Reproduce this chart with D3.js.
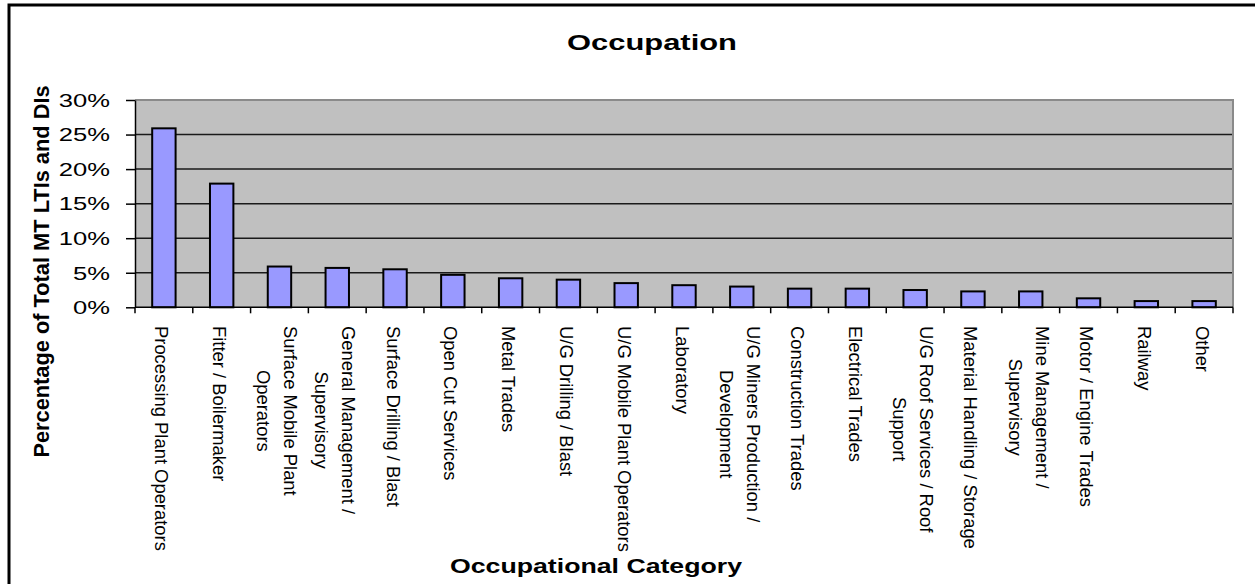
<!DOCTYPE html>
<html><head><meta charset="utf-8">
<script src="https://cdn.jsdelivr.net/npm/d3@7"></script>
<style>
body{margin:0;background:#fff;}
svg{display:block;font-family:"Liberation Sans",Arial,sans-serif;}
</style>
</head><body>
<svg id="chart" width="1255" height="584"></svg>
<script>
// ---- data ----
const categories = [
  "Processing Plant Operators",
  "Fitter / Boilermaker",
  "Surface Mobile Plant\nOperators",
  "General Management /\nSupervisory",
  "Surface Drilling / Blast",
  "Open Cut Services",
  "Metal Trades",
  "U/G Drilling / Blast",
  "U/G Mobile Plant Operators",
  "Laboratory",
  "U/G Miners Production /\nDevelopment",
  "Construction Trades",
  "Electrical Trades",
  "U/G Roof Services / Roof\nSupport",
  "Material Handling / Storage",
  "Mine Management /\nSupervisory",
  "Motor / Engine Trades",
  "Railway",
  "Other"
];
const values = [0.259, 0.179, 0.059, 0.057, 0.055, 0.047, 0.042, 0.040, 0.035, 0.032, 0.030, 0.027, 0.027, 0.025, 0.023, 0.023, 0.013, 0.009, 0.009];
const yTicks = [0, 0.05, 0.10, 0.15, 0.20, 0.25, 0.30];
const chartTitle = "Occupation";
const xTitle = "Occupational Category";
const yTitle = "Percentage of Total MT LTIs and DIs";

// ---- layout ----
const svg = d3.select("#chart");
const plot = {left: 135, right: 1233, top: 100, bottom: 307.3};
const hStretch = 1.42;

const x = d3.scaleBand().domain(categories).range([plot.left, plot.right]).padding(0);
const y = d3.scaleLinear().domain([0, 0.30]).range([plot.bottom, plot.top]);

// outer frame
svg.append("rect").attr("x", 9).attr("y", 5).attr("width", 1260).attr("height", 600)
  .attr("fill", "none").attr("stroke", "#000").attr("stroke-width", 3);

// plot background
svg.append("rect").attr("x", plot.left).attr("y", plot.top)
  .attr("width", plot.right - plot.left).attr("height", plot.bottom - plot.top)
  .attr("fill", "#c0c0c0");

// gridlines
svg.append("g").selectAll("line").data(yTicks.filter(t => t > 0 && t < 0.30)).join("line")
  .attr("x1", plot.left).attr("x2", plot.right)
  .attr("y1", d => y(d)).attr("y2", d => y(d))
  .attr("stroke", "#1a1a1a").attr("stroke-width", 1.5);

// plot border (top & right) gray
svg.append("path")
  .attr("d", `M${plot.left},${plot.top}H${plot.right}V${plot.bottom}`)
  .attr("fill", "none").attr("stroke", "#8a8a8a").attr("stroke-width", 2);

// bars
const barW = x.bandwidth() * 0.405;
svg.append("g").selectAll("rect").data(categories).join("rect")
  .attr("x", d => x(d) + (x.bandwidth() - barW) / 2)
  .attr("width", barW)
  .attr("y", (d, i) => y(values[i]))
  .attr("height", (d, i) => y(0) - y(values[i]))
  .attr("fill", "#9999ff").attr("stroke", "#000").attr("stroke-width", 2);

// y axis
const yAxis = svg.append("g").attr("transform", `translate(${plot.left},0)`)
  .call(d3.axisLeft(y).tickValues(yTicks).tickFormat(d3.format(".0%")).tickSize(9).tickSizeOuter(0));
yAxis.select(".domain").attr("stroke", "#000").attr("stroke-width", 1.5);
yAxis.selectAll(".tick line").attr("stroke", "#000").attr("stroke-width", 1.5);
yAxis.selectAll(".tick text")
  .attr("font-size", 18).attr("fill", "#000")
  .attr("font-family", '"Liberation Sans",Arial,sans-serif')
  .attr("x", -(plot.left - 110)).attr("dy", "0.35em")
  .each(function() {
    const w = this.getComputedTextLength();
    d3.select(this).attr("textLength", w * hStretch).attr("lengthAdjust", "spacingAndGlyphs");
  });

// x axis line and ticks at band boundaries
const xAx = svg.append("g");
xAx.append("line").attr("x1", plot.left).attr("x2", plot.right)
  .attr("y1", y(0)).attr("y2", y(0)).attr("stroke", "#000").attr("stroke-width", 1.5);
const bounds = categories.map(c => x(c)).concat([x.range()[1]]);
xAx.selectAll("line.tk").data(bounds).join("line").attr("class", "tk")
  .attr("x1", d => d).attr("x2", d => d)
  .attr("y1", y(0)).attr("y2", y(0) + 6)
  .attr("stroke", "#000").attr("stroke-width", 1.5);

// x category labels (rotated 90deg, multi-line centered)
const lineH = 27;
const labG = svg.append("g");
categories.forEach(c => {
  const lines = c.split("\n");
  const n = lines.length;
  const cx = x(c) + x.bandwidth() / 2;
  const g = labG.append("g").attr("transform", `translate(${cx},326) rotate(90)`);
  const texts = lines.map((ln, i) => g.append("text")
    .attr("font-size", 18.4).attr("fill", "#000")
    .attr("y", 8.5 - (n - 1) / 2 * lineH + i * lineH)
    .attr("text-anchor", "middle")
    .text(ln));
  const maxW = d3.max(texts, t => t.node().getComputedTextLength());
  texts.forEach(t => t.attr("x", maxW / 2));
});

// title
svg.append("text").attr("x", 652).attr("y", 50)
  .attr("text-anchor", "middle").attr("font-size", 22).attr("font-weight", "bold")
  .attr("textLength", 170).attr("lengthAdjust", "spacingAndGlyphs")
  .text(chartTitle);

// x axis title
svg.append("text").attr("x", 596).attr("y", 573)
  .attr("text-anchor", "middle").attr("font-size", 20).attr("font-weight", "bold")
  .attr("textLength", 292).attr("lengthAdjust", "spacingAndGlyphs")
  .text(xTitle);

// y axis title
svg.append("text").attr("transform", "translate(49,271.5) rotate(-90)")
  .attr("text-anchor", "middle").attr("font-size", 21.8).attr("font-weight", "bold")
  .text(yTitle);
</script>
</body></html>
